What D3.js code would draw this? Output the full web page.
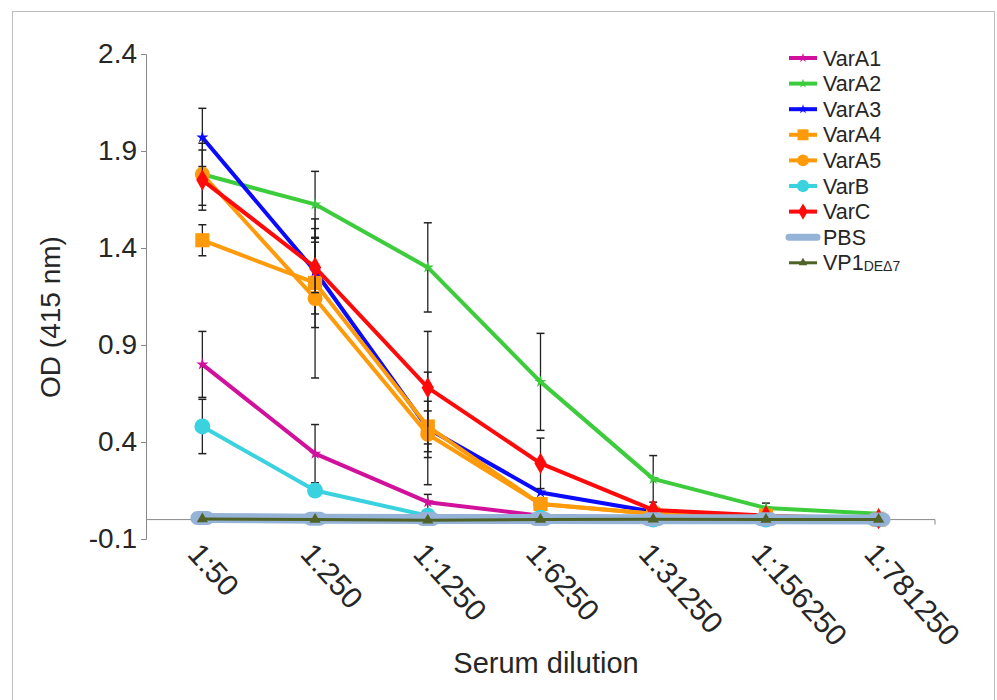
<!DOCTYPE html>
<html>
<head>
<meta charset="utf-8">
<script src="https://cdn.jsdelivr.net/npm/d3@7"></script>
<style>
  body { margin: 0; background: #fff; }
  svg { display: block; font-family: "Liberation Sans", Arial, sans-serif; }
</style>
</head>
<body>
<svg id="chart" width="997" height="700"></svg>
<script>
// dilution categories
const dilutions = ["1:50", "1:250", "1:1250", "1:6250", "1:31250", "1:156250", "1:781250"];
const yTicks = [-0.1, 0.4, 0.9, 1.4, 1.9, 2.4];

// OD values per series
const varA1 = [0.80, 0.34, 0.09, 0.02, 0.01, 0.005, 0.0];
const varA2 = [1.78, 1.625, 1.30, 0.71, 0.21, 0.06, 0.03];
const varA3 = [1.97, 1.28, 0.47, 0.14, 0.04, 0.01, 0.0];
const varA4 = [1.44, 1.22, 0.48, 0.08, 0.03, 0.02, 0.0];
const varA5 = [1.78, 1.14, 0.44, 0.08, 0.03, 0.01, 0.0];
const varB  = [0.48, 0.15, 0.02, 0.01, 0.0, 0.0, 0.0];
const varC  = [1.75, 1.30, 0.68, 0.29, 0.05, 0.02, 0.005];
const pbs   = [0.008, 0.005, 0.003, 0.003, 0.002, 0.002, 0.0];
const vp1   = [0.003, 0.0, -0.003, 0.0, 0.002, 0.0, 0.0];

// error bar half widths (0 = not drawn)
const errA1 = [0.17, 0.15, 0.04, 0, 0, 0, 0];
const errA2 = [0, 0.17, 0.23, 0.25, 0.12, 0.025, 0];
const errA3 = [0.15, 0.22, 0.29, 0, 0, 0, 0];
const errA4 = [0.08, 0.23, 0.13, 0, 0, 0, 0];
const errA5 = [0.16, 0.41, 0.12, 0, 0, 0, 0];
const errB  = [0.14, 0, 0, 0, 0, 0, 0];
const errC  = [0.155, 0.13, 0.29, 0.13, 0, 0, 0];

const series = [
  {name: "VarA1", values: varA1, err: errA1, color: "#d1109c", sym: d3.symbolStar, size: 45, width: 4},
  {name: "VarA2", values: varA2, err: errA2, color: "#3ccc3c", sym: d3.symbolStar, size: 45, width: 4},
  {name: "VarA3", values: varA3, err: errA3, color: "#0a0aff", sym: d3.symbolStar, size: 45, width: 4},
  {name: "VarA4", values: varA4, err: errA4, color: "#ff9a0a", sym: d3.symbolSquare, size: 200, width: 4},
  {name: "VarA5", values: varA5, err: errA5, color: "#ff9a0a", sym: d3.symbolCircle, size: 180, width: 4},
  {name: "VarB",  values: varB,  err: errB,  color: "#3ad2df", sym: d3.symbolCircle, size: 200, width: 4},
  {name: "VarC",  values: varC,  err: errC,  color: "#ff0a0a", sym: d3.symbolDiamond, size: 130, width: 4},
  {name: "PBS",   values: pbs,   err: null,  color: "#95b3d7", sym: null, size: 0, width: 10},
  {name: "VP1",   values: vp1,   err: null,  color: "#4f6228", sym: d3.symbolTriangle, size: 55, width: 3}
];

const svg = d3.select("#chart");

// outer frame
svg.append("rect")
  .attr("x", 12.5).attr("y", 11.5).attr("width", 982).attr("height", 700)
  .attr("fill", "none").attr("stroke", "#bdbdbd");

const x = d3.scalePoint().domain(dilutions).range([146, 935]).padding(0.5);
const y = d3.scaleLinear().domain([-0.1, 2.4]).range([539, 54]);

// y axis
const yAxis = svg.append("g").attr("transform", "translate(146,0)")
  .call(d3.axisLeft(y).tickValues(yTicks).tickFormat(d => d.toFixed(1)).tickSize(5).tickPadding(4));
yAxis.select(".domain").attr("stroke", "#888");
yAxis.selectAll(".tick line").attr("stroke", "#888");
yAxis.selectAll("text").attr("font-size", 28).attr("fill", "#262626").attr("font-family", null);

// x axis line at y = 0
svg.append("line")
  .attr("x1", 146).attr("x2", 935).attr("y1", y(0)).attr("y2", y(0))
  .attr("stroke", "#888");
svg.append("line")
  .attr("x1", 935).attr("x2", 935).attr("y1", y(0)).attr("y2", y(0) + 5)
  .attr("stroke", "#888");

// x tick labels, rotated
svg.selectAll(".xlab").data(dilutions).enter().append("text")
  .attr("class", "xlab")
  .attr("transform", d => "translate(" + (x(d) - 16) + ",555) rotate(48)")
  .attr("font-size", 30).attr("fill", "#262626")
  .text(d => d);

// axis titles
svg.append("text")
  .attr("transform", "translate(60,317) rotate(-90)")
  .attr("text-anchor", "middle").attr("font-size", 28).attr("fill", "#262626")
  .text("OD (415 nm)");
svg.append("text")
  .attr("x", 546).attr("y", 673)
  .attr("text-anchor", "middle").attr("font-size", 29).attr("fill", "#262626")
  .text("Serum dilution");

const line = d3.line().x((d, i) => x(dilutions[i])).y(d => y(d));

series.forEach(s => {
  const g = svg.append("g");
  g.append("path")
    .attr("d", line(s.values))
    .attr("fill", "none").attr("stroke", s.color)
    .attr("stroke-width", s.width)
    .attr("stroke-linecap", s.name == "PBS" ? "round" : "butt")
    .attr("stroke-linejoin", "round");

  if (s.err) {
    s.values.forEach((v, i) => {
      if (!s.err[i]) return;
      const cx = x(dilutions[i]);
      const t = y(v + s.err[i]), b = y(v - s.err[i]);
      g.append("line").attr("x1", cx).attr("x2", cx).attr("y1", t).attr("y2", b)
        .attr("stroke", "#222").attr("stroke-width", 1.3);
      [t, b].forEach(yy => g.append("line")
        .attr("x1", cx - 4).attr("x2", cx + 4).attr("y1", yy).attr("y2", yy)
        .attr("stroke", "#222").attr("stroke-width", 1.5));
    });
  }

  if (s.sym) {
    g.selectAll("path.m").data(s.values).enter().append("path")
      .attr("class", "m")
      .attr("d", d3.symbol().type(s.sym).size(s.size))
      .attr("transform", (d, i) => "translate(" + x(dilutions[i]) + "," + y(d) + ")")
      .attr("fill", s.color);
  } else {
    g.selectAll("rect.m").data(s.values).enter().append("rect")
      .attr("class", "m")
      .attr("x", (d, i) => x(dilutions[i]) - 12).attr("y", d => y(d) - 7)
      .attr("width", 24).attr("height", 14).attr("rx", 7)
      .attr("fill", s.color);
  }
});

// legend
const leg = svg.append("g");
series.forEach((s, i) => {
  const ly = 58 + i * 25.6;
  leg.append("line")
    .attr("x1", 789).attr("x2", 817).attr("y1", ly).attr("y2", ly)
    .attr("stroke", s.color).attr("stroke-width", s.name == "PBS" ? 7 : (s.width == 3 ? 3 : 4))
    .attr("stroke-linecap", s.name == "PBS" ? "round" : "butt");
  if (s.sym) {
    leg.append("path")
      .attr("d", d3.symbol().type(s.sym).size(s.size * 0.6))
      .attr("transform", "translate(803," + ly + ")")
      .attr("fill", s.color);
  }
  const t = leg.append("text")
    .attr("x", 823).attr("y", ly + 7.5)
    .attr("font-size", 21.5).attr("fill", "#262626");
  if (s.name == "VP1") {
    t.append("tspan").text("VP1");
    t.append("tspan").attr("font-size", 14).attr("dy", 1).text("DEΔ7");
  } else {
    t.text(s.name);
  }
});
</script>
</body>
</html>
